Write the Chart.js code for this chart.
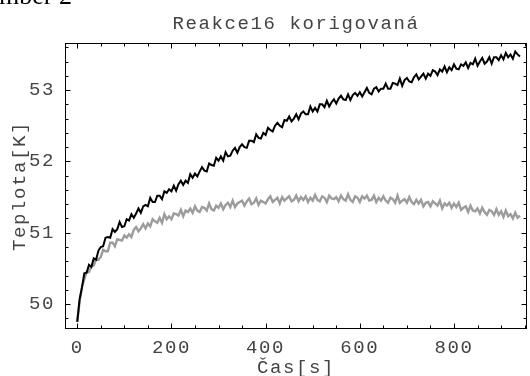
<!DOCTYPE html>
<html>
<head>
<meta charset="utf-8">
<script src="https://cdn.jsdelivr.net/npm/chart.js@4.4.0/dist/chart.umd.min.js"></script>
<style>
html, body { margin: 0; padding: 0; background: #fff; }
</style>
</head>
<body>
<canvas id="canvas" width="530" height="376"></canvas>
<script>
// samples every 5 s, starting at t = 0
var sampleStep = 5;

var blackTemp = [
    49.75, 50.07, 50.23, 50.43, 50.44, 50.55, 50.52, 50.64, 50.62, 50.75,
    50.80, 50.81, 50.93, 50.94, 50.93, 51.05, 51.01, 51.05, 51.15, 51.08,
    51.09, 51.19, 51.17, 51.26, 51.21, 51.27, 51.34, 51.28, 51.37, 51.39,
    51.37, 51.49, 51.43, 51.43, 51.52, 51.52, 51.47, 51.58, 51.56, 51.61,
    51.58, 51.66, 51.59, 51.68, 51.73, 51.67, 51.73, 51.70, 51.82, 51.77,
    51.83, 51.79, 51.86, 51.92, 51.87, 51.86, 51.97, 51.95, 51.94, 52.05,
    52.01, 52.07, 52.01, 52.13, 52.07, 52.08, 52.15, 52.19, 52.12, 52.20,
    52.24, 52.20, 52.19, 52.29, 52.29, 52.27, 52.38, 52.33, 52.32, 52.40,
    52.37, 52.47, 52.44, 52.42, 52.50, 52.54, 52.50, 52.48, 52.58, 52.57,
    52.63, 52.56, 52.60, 52.66, 52.59, 52.67, 52.70, 52.66, 52.66, 52.77,
    52.70, 52.75, 52.70, 52.80, 52.80, 52.76, 52.85, 52.77, 52.83, 52.87,
    52.81, 52.88, 52.92, 52.87, 52.86, 52.94, 52.86, 52.93, 52.96, 52.92,
    52.97, 52.91, 52.97, 53.03, 52.96, 52.94, 53.02, 53.04, 52.98, 53.02,
    53.02, 53.09, 53.02, 53.02, 53.10, 53.09, 53.07, 53.16, 53.06, 53.14,
    53.17, 53.12, 53.11, 53.18, 53.22, 53.15, 53.19, 53.23, 53.16, 53.23,
    53.20, 53.28, 53.26, 53.21, 53.29, 53.26, 53.33, 53.25, 53.32, 53.28,
    53.36, 53.30, 53.29, 53.36, 53.34, 53.39, 53.31, 53.38, 53.36, 53.44,
    53.34, 53.40, 53.45, 53.37, 53.40, 53.46, 53.37, 53.46, 53.46, 53.42,
    53.49, 53.43, 53.52, 53.46, 53.50, 53.44, 53.54, 53.50, 53.47
];

var grayTemp = [
    49.75, 50.03, 50.24, 50.35, 50.45, 50.45, 50.53, 50.54, 50.63, 50.62,
    50.66, 50.76, 50.74, 50.74, 50.86, 50.86, 50.81, 50.91, 50.90, 50.89,
    50.96, 50.93, 50.98, 50.94, 51.04, 51.08, 51.02, 51.06, 51.12, 51.06,
    51.13, 51.09, 51.19, 51.16, 51.14, 51.21, 51.14, 51.26, 51.19, 51.23,
    51.19, 51.27, 51.26, 51.24, 51.32, 51.23, 51.31, 51.29, 51.34, 51.28,
    51.37, 51.31, 51.29, 51.36, 51.35, 51.31, 51.41, 51.33, 51.31, 51.38,
    51.35, 51.41, 51.33, 51.39, 51.42, 51.36, 51.45, 51.36, 51.41, 51.43,
    51.45, 51.38, 51.44, 51.48, 51.40, 51.42, 51.48, 51.39, 51.45, 51.43,
    51.41, 51.47, 51.51, 51.43, 51.46, 51.49, 51.41, 51.50, 51.45, 51.48,
    51.51, 51.44, 51.46, 51.52, 51.44, 51.50, 51.46, 51.51, 51.43, 51.49,
    51.45, 51.53, 51.46, 51.44, 51.51, 51.49, 51.43, 51.52, 51.48, 51.47,
    51.50, 51.44, 51.52, 51.47, 51.45, 51.54, 51.46, 51.43, 51.51, 51.49,
    51.43, 51.51, 51.48, 51.52, 51.45, 51.46, 51.52, 51.43, 51.49, 51.45,
    51.51, 51.45, 51.42, 51.49, 51.47, 51.42, 51.52, 51.42, 51.45, 51.47,
    51.42, 51.50, 51.43, 51.40, 51.46, 51.41, 51.46, 51.37, 51.42, 51.43,
    51.37, 51.44, 51.41, 51.38, 51.45, 51.34, 51.41, 51.38, 51.42, 51.35,
    51.41, 51.36, 51.42, 51.32, 51.35, 51.37, 51.29, 51.38, 51.31, 51.30,
    51.34, 51.27, 51.35, 51.29, 51.25, 51.32, 51.30, 51.25, 51.33, 51.25,
    51.30, 51.22, 51.31, 51.23, 51.26, 51.20, 51.28, 51.21, 51.24
];

var xTicks = [0, 200, 400, 600, 800];
var yTicks = [50, 51, 52, 53];

var monoFont = "'Liberation Mono', 'DejaVu Sans Mono', monospace";
var textColor = '#444';

function toPoints(values) {
    return values.map(function(v, i) {
        return { x: i * sampleStep, y: v };
    });
}

// Courier-like text is set wide
var spacingPlugin = {
    id: 'spacing',
    beforeUpdate: function(chart) { chart.ctx.letterSpacing = '1.6px'; },
    beforeDraw: function(chart) { chart.ctx.letterSpacing = '1.6px'; }
};

// frame with inward ticks on all four sides
var framePlugin = {
    id: 'frame',
    afterDraw: function(chart) {
        var ctx = chart.ctx;
        var a = chart.chartArea;
        var xs = chart.scales.x, ys = chart.scales.y;
        var L = Math.round(a.left) + 0.5, R = Math.round(a.right) - 0.5;
        var T = Math.round(a.top) + 0.5, B = Math.round(a.bottom) - 0.5;
        ctx.save();
        ctx.strokeStyle = '#000';
        ctx.lineWidth = 1;
        ctx.strokeRect(L, T, R - L, B - T);
        ctx.beginPath();
        for (var t = 0; t <= 950; t += 50) {
            var px = Math.round(xs.getPixelForValue(t)) + 0.5;
            var len = (t % 200 === 0) ? 5 : 3;
            ctx.moveTo(px, B); ctx.lineTo(px, B - len);
            ctx.moveTo(px, T); ctx.lineTo(px, T + len);
        }
        for (var k = 249; k <= 268; k++) {
            var py = Math.round(ys.getPixelForValue(k / 5)) + 0.5;
            var l2 = (k % 5 === 0) ? 5 : 3;
            ctx.moveTo(L, py); ctx.lineTo(L + l2, py);
            ctx.moveTo(R, py); ctx.lineTo(R - l2, py);
        }
        ctx.stroke();

        // caption of the page above, clipped by the top edge
        ctx.letterSpacing = '0px';
        ctx.fillStyle = '#000';
        ctx.font = "26px 'Liberation Serif', serif";
        ctx.textBaseline = 'alphabetic';
        ctx.textAlign = 'left';
        ctx.fillText('mber 2', -1, 4);
        ctx.restore();
    }
};

var chart = new Chart(document.getElementById('canvas').getContext('2d'), {
    type: 'line',
    data: {
        datasets: [{
            data: toPoints(blackTemp),
            borderColor: '#000',
            borderWidth: 2,
            pointRadius: 0,
            tension: 0
        }, {
            data: toPoints(grayTemp),
            borderColor: '#9c9c9c',
            borderWidth: 2.4,
            pointRadius: 0,
            tension: 0
        }]
    },
    options: {
        responsive: false,
        animation: false,
        layout: { padding: { left: 0, right: 3, top: 0, bottom: 0 } },
        plugins: {
            legend: { display: false },
            tooltip: { enabled: false },
            title: {
                display: true,
                fullSize: false,
                text: 'Reakce16 korigovaná',
                color: textColor,
                font: { family: monoFont, size: 19, weight: 'normal', lineHeight: 1 },
                padding: { top: 14, bottom: 10 }
            }
        },
        scales: {
            x: {
                type: 'linear',
                min: -26,
                max: 955,
                grid: { display: false, drawTicks: false },
                border: { display: false },
                afterBuildTicks: function(scale) {
                    scale.ticks = xTicks.map(function(v) { return { value: v }; });
                },
                afterFit: function(scale) {
                    scale.height = 47;
                    scale.paddingLeft = 0;
                    scale.paddingRight = 0;
                },
                ticks: {
                    color: textColor,
                    padding: 8,
                    maxRotation: 0,
                    font: { family: monoFont, size: 19 }
                },
                title: {
                    display: true,
                    text: 'Čas[s]',
                    color: textColor,
                    font: { family: monoFont, size: 19, lineHeight: 1 },
                    padding: { top: 0, bottom: -1 }
                }
            },
            y: {
                min: 49.65,
                max: 53.66,
                grid: { display: false, drawTicks: false },
                border: { display: false },
                afterBuildTicks: function(scale) {
                    scale.ticks = yTicks.map(function(v) { return { value: v }; });
                },
                afterFit: function(scale) {
                    scale.width = 65;
                    scale.paddingTop = 0;
                    scale.paddingBottom = 0;
                },
                ticks: {
                    color: textColor,
                    padding: 10,
                    font: { family: monoFont, size: 19 }
                },
                title: {
                    display: true,
                    text: 'Teplota[K]',
                    color: textColor,
                    font: { family: monoFont, size: 19, lineHeight: 1 },
                    padding: { top: 10, bottom: 0 }
                }
            }
        }
    },
    plugins: [spacingPlugin, framePlugin]
});
</script>
</body>
</html>
